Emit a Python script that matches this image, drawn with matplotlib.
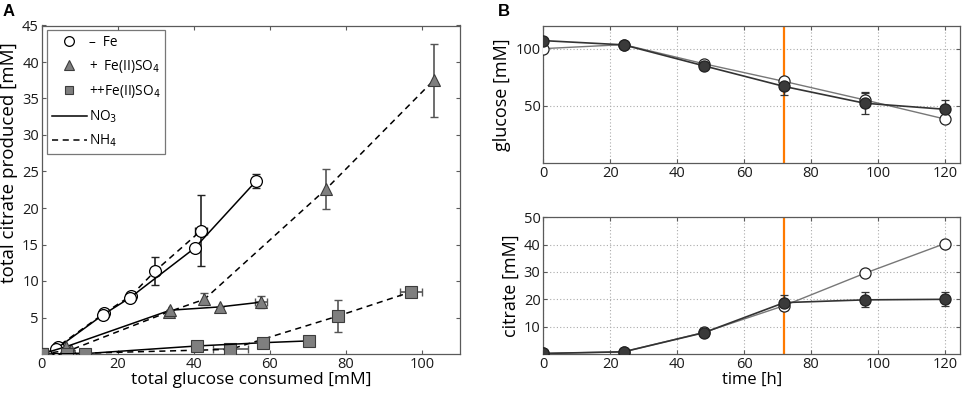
import matplotlib
matplotlib.use("Agg")
import matplotlib.pyplot as plt
from matplotlib.lines import Line2D

plt.rcParams['font.family'] = ['Open Sans', 'DejaVu Sans']

# ---------------- Panel A data ----------------
circ_no3_x = [0, 3.8, 16.2, 23.2, 40.2, 56.4]
circ_no3_y = [0, 0.7, 5.4, 7.7, 14.5, 23.7]
circ_no3_yerr = [0, 0, 0, 0, 0, 1.0]

circ_nh4_x = [0, 4.2, 16.5, 23.5, 29.9, 41.9]
circ_nh4_y = [0, 1.0, 5.6, 8.0, 11.4, 16.9]
circ_nh4_yerr = [0, 0, 0, 0, 1.9, 4.9]
circ_nh4_xerr = [0, 0, 0, 0, 1.0, 1.5]

tri_no3_x = [0, 6.4, 33.8, 46.8, 57.7]
tri_no3_y = [0, 1.0, 6.0, 6.45, 7.1]
tri_no3_yerr = [0, 0, 0, 0, 0.85]
tri_no3_xerr = [0, 0, 0, 0, 1.5]

tri_nh4_x = [0, 7.6, 33.5, 42.8, 74.8, 103.1]
tri_nh4_y = [0, 0.55, 5.8, 7.5, 22.6, 37.5]
tri_nh4_yerr = [0, 0, 0, 0.85, 2.75, 5.0]

sq_no3_x = [0, 11.4, 40.8, 58.3, 70.4]
sq_no3_y = [0, 0.05, 1.1, 1.55, 1.8]

sq_nh4_x = [0, 6.6, 49.6, 77.9, 97.1]
sq_nh4_y = [0, 0.05, 0.64, 5.2, 8.5]
sq_nh4_yerr = [0, 0, 0, 2.2, 0.7]
sq_nh4_xerr = [0, 0, 4.6, 0, 3.0]

# ---------------- Panel B data ----------------
time_h = [0, 24, 48, 72, 96, 120]
gluc_open = [100, 103.5, 86.8, 71.4, 55.3, 38.6]
gluc_open_err = [2, 0, 1, 1, 6, 0]
gluc_filled = [107, 103.3, 85, 67, 52.4, 47.1]
gluc_filled_err = [0, 0, 2, 7, 9.5, 8]
cit_open = [0.2, 0.8, 7.9, 17.7, 29.5, 40.4]
cit_open_err = [0, 0, 0, 1.5, 0, 0]
cit_filled = [0.2, 0.8, 7.8, 18.8, 19.8, 20.0]
cit_filled_err = [0, 0, 0, 2.7, 2.7, 2.5]

W, H = 964, 395
fig = plt.figure(figsize=(W / 100, H / 100), dpi=100)

def frac(l, t, r, b):
    return [l / W, 1 - b / H, (r - l) / W, (b - t) / H]

spine_c = '#5a5a5a'
gray_fill = '#7f7f7f'
gray_edge = '#3c3c3c'

def style(ax):
    for s in ax.spines.values():
        s.set_color(spine_c)
        s.set_linewidth(0.9)
    ax.tick_params(direction='in', top=True, right=True, length=3, width=0.8,
                   color=spine_c, labelsize=10.5, labelcolor='#1a1a1a', pad=2)

# ---------------- Panel A ----------------
axA = fig.add_axes(frac(41.7, 25.5, 460, 354))
style(axA)

eb_kw = dict(capsize=3, elinewidth=1.2, capthick=1.0, zorder=2)
dash = (0, (4, 3))

axA.errorbar(circ_nh4_x, circ_nh4_y, yerr=circ_nh4_yerr, xerr=circ_nh4_xerr, fmt='none',
             ecolor='#222222', **eb_kw)
axA.plot(circ_nh4_x, circ_nh4_y, ls=dash, color='black', lw=1.1, marker='o', ms=8.5,
         mfc='white', mec='black', mew=0.9, zorder=3)
axA.errorbar(circ_no3_x, circ_no3_y, yerr=circ_no3_yerr, fmt='none', ecolor='#222222', **eb_kw)
axA.plot(circ_no3_x, circ_no3_y, ls='-', color='black', lw=1.1, marker='o', ms=8.5,
         mfc='white', mec='black', mew=0.9, zorder=3)

axA.errorbar(tri_nh4_x, tri_nh4_y, yerr=tri_nh4_yerr, fmt='none', ecolor='#555555', **eb_kw)
axA.plot(tri_nh4_x, tri_nh4_y, ls=dash, color='black', lw=1.1, marker='^', ms=9,
         mfc=gray_fill, mec=gray_edge, mew=0.8, zorder=3)
axA.errorbar(tri_no3_x, tri_no3_y, yerr=tri_no3_yerr, xerr=tri_no3_xerr, fmt='none',
             ecolor='#555555', **eb_kw)
axA.plot(tri_no3_x, tri_no3_y, ls='-', color='black', lw=1.1, marker='^', ms=9,
         mfc=gray_fill, mec=gray_edge, mew=0.8, zorder=3)

axA.errorbar(sq_nh4_x, sq_nh4_y, yerr=sq_nh4_yerr, xerr=sq_nh4_xerr, fmt='none',
             ecolor='#555555', **eb_kw)
axA.plot(sq_nh4_x, sq_nh4_y, ls=dash, color='black', lw=1.1, marker='s', ms=8,
         mfc=gray_fill, mec=gray_edge, mew=0.8, zorder=3)
axA.plot(sq_no3_x, sq_no3_y, ls='-', color='black', lw=1.1, marker='s', ms=8,
         mfc=gray_fill, mec=gray_edge, mew=0.8, zorder=3)

axA.set_xlim(0, 110)
axA.set_ylim(0, 45)
axA.set_xticks([0, 20, 40, 60, 80, 100])
axA.set_yticks([5, 10, 15, 20, 25, 30, 35, 40, 45])
axA.set_xlabel('total glucose consumed [mM]', fontsize=12.5, labelpad=0)
axA.set_ylabel('total citrate produced [mM]', fontsize=13.5)
axA.yaxis.set_label_coords(-0.056, 0.584)

handles = [
    Line2D([], [], ls='none', marker='o', ms=7, mfc='white', mec='black', mew=0.9),
    Line2D([], [], ls='none', marker='^', ms=7, mfc=gray_fill, mec=gray_edge, mew=0.8),
    Line2D([], [], ls='none', marker='s', ms=6, mfc=gray_fill, mec=gray_edge, mew=0.8),
    Line2D([], [], ls='-', color='black', lw=1.1),
    Line2D([], [], ls=dash, color='black', lw=1.1),
]
labels = ['–  Fe', '+  Fe(II)SO$_4$', '++Fe(II)SO$_4$', 'NO$_3$', 'NH$_4$']
leg = axA.legend(handles, labels, loc='upper left', fontsize=9.8, frameon=True, fancybox=False,
                 edgecolor='#555555', handlelength=2.6, handletextpad=0.1, labelspacing=0.6,
                 borderpad=0.35, borderaxespad=0, bbox_to_anchor=(0.0127, 0.986))
leg.get_frame().set_linewidth(0.9)

fig.text(3 / W, 1 - 16 / H, 'A', fontsize=12, fontweight='bold', family='Liberation Sans')
fig.text(498 / W, 1 - 16 / H, 'B', fontsize=12, fontweight='bold', family='Liberation Sans')

# ---------------- Panel B ----------------
dark = '#333333'
mid = '#777777'

def styleB(ax):
    style(ax)
    ax.grid(True, ls=(0, (1, 2)), color='#aaaaaa', lw=0.8)
    ax.set_axisbelow(True)
    ax.set_xlim(0, 124.5)
    ax.set_xticks([0, 20, 40, 60, 80, 100, 120])
    ax.axvline(72, color='#ff7a00', lw=1.6, zorder=1.5)

axB1 = fig.add_axes(frac(543.3, 25.7, 960, 163.3))
styleB(axB1)
axB1.errorbar(time_h, gluc_open, yerr=gluc_open_err, color=mid, lw=1.0, marker='o', ms=8,
              mfc='white', mec='#222222', mew=0.9, ecolor='#333333', capsize=3, elinewidth=1.0,
              zorder=3)
axB1.errorbar(time_h, gluc_filled, yerr=gluc_filled_err, color=dark, lw=1.2, marker='o', ms=8,
              mfc='#3a3a3a', mec='#222222', mew=0.9, ecolor='#333333', capsize=3, elinewidth=1.0,
              zorder=3)
axB1.set_ylim(0, 120)
axB1.set_yticks([50, 100])
axB1.set_ylabel('glucose [mM]', fontsize=13, labelpad=3)

axB2 = fig.add_axes(frac(543.3, 217.3, 960, 354))
styleB(axB2)
axB2.errorbar(time_h, cit_open, yerr=cit_open_err, color=mid, lw=1.0, marker='o', ms=8,
              mfc='white', mec='#222222', mew=0.9, ecolor='#333333', capsize=3, elinewidth=1.0,
              zorder=3)
axB2.errorbar(time_h, cit_filled, yerr=cit_filled_err, color=dark, lw=1.2, marker='o', ms=8,
              mfc='#3a3a3a', mec='#222222', mew=0.9, ecolor='#333333', capsize=3, elinewidth=1.0,
              zorder=3)
axB2.set_ylim(0, 50)
axB2.set_yticks([10, 20, 30, 40, 50])
axB2.set_ylabel('citrate [mM]', fontsize=13, labelpad=3)
axB2.set_xlabel('time [h]', fontsize=12, labelpad=0)

fig.savefig('out.png', dpi=100)
